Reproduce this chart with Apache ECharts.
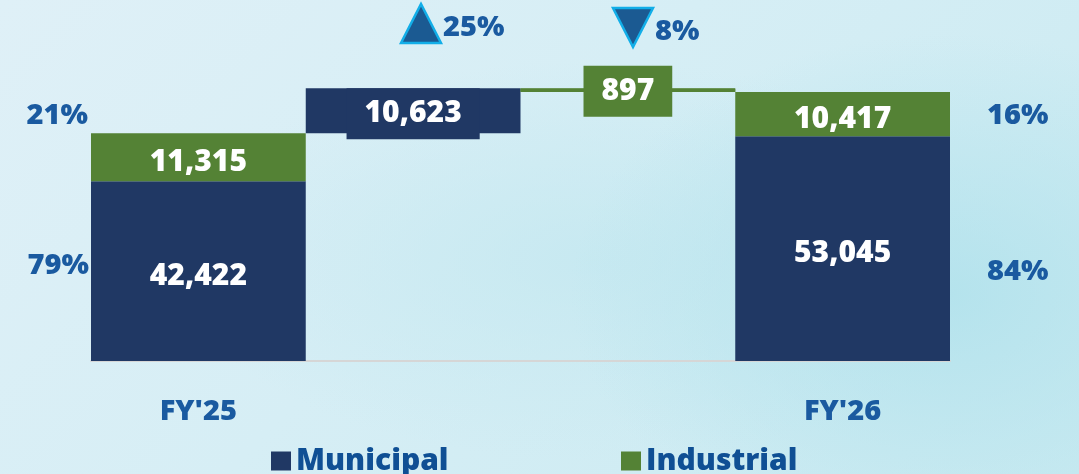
<!DOCTYPE html>
<html>
<head>
<meta charset="utf-8">
<script src="https://cdn.jsdelivr.net/npm/echarts@6/dist/echarts.min.js"></script>
<style>
  html, body { margin: 0; padding: 0; }
  body {
    width: 1079px; height: 474px; overflow: hidden;
    background:
      radial-gradient(ellipse 380px 260px at 88% 62%, rgba(178, 226, 236, 0.9) 0%, rgba(178, 226, 236, 0) 100%),
      radial-gradient(ellipse 420px 200px at 55% 55%, rgba(196, 232, 240, 0.8) 0%, rgba(196, 232, 240, 0) 100%),
      linear-gradient(135deg, #dff0f7 0%, #d6eef5 45%, #c9eaf1 100%);
  }
  #chart { width: 1079px; height: 474px; }
</style>
</head>
<body>
<div id="chart"></div>
<script>
// data
const categories = ["FY'25", '', '', "FY'26"];
const municipal = [42422, 10623, '-', 53045];
const industrial = [11315, '-', 897, 10417];

// invisible base for the floating (bridge) bars
const fy25Total = municipal[0] + industrial[0];
const bridgeTop = fy25Total + municipal[1];
const base = [0, fy25Total, bridgeTop - industrial[2], 0];

const navy = '#203864';
const green = '#548235';
const blueText = '#1a5aa0';
const font = '"Open Sans", "DejaVu Sans", sans-serif';

const fmt = v => Number(v).toLocaleString('en-US');
const pct = (a, b) => Math.round(a / b * 100) + '%';

const valueLabel = {
  show: true,
  position: 'inside',
  offset: [0, 5],
  color: '#fff',
  fontSize: 30,
  fontWeight: 800,
  fontFamily: font,
  formatter: p => fmt(p.value)
};

const chart = echarts.init(document.getElementById('chart'));

const legendText = { fontSize: 30, fontWeight: 800, color: '#0f4f94', fontFamily: font };

const option = {
  animation: false,
  backgroundColor: 'transparent',
  grid: { left: 91, right: 129, top: 22, bottom: 113 },
  legend: [
    {
      data: ['Municipal'], left: 266, top: 441, icon: 'rect',
      itemWidth: 20, itemHeight: 19, selectedMode: false, textStyle: legendText
    },
    {
      data: ['Industrial'], left: 616, top: 441, icon: 'rect',
      itemWidth: 20, itemHeight: 19, selectedMode: false, textStyle: legendText
    }
  ],
  xAxis: {
    type: 'category',
    data: categories,
    axisLine: { lineStyle: { color: '#d6d6d6', width: 2 } },
    axisTick: { show: false },
    axisLabel: {
      interval: 0, margin: 36, color: blueText,
      fontSize: 29, fontWeight: 800, fontFamily: font
    }
  },
  yAxis: { type: 'value', min: 0, max: 80000, show: false, splitLine: { show: false } },
  series: [
    {
      name: 'base', type: 'bar', stack: 'total', barCategoryGap: '0%',
      itemStyle: { color: 'transparent' },
      emphasis: { disabled: true },
      data: base
    },
    {
      name: 'Municipal', type: 'bar', stack: 'total', barCategoryGap: '0%',
      itemStyle: { color: navy },
      emphasis: { disabled: true },
      label: valueLabel,
      data: municipal.map((v, i) => i === 1 ? {
        value: v,
        label: { backgroundColor: navy, padding: [11, 18, 9, 18], lineHeight: 31, offset: [0, 3] }
      } : v)
    },
    {
      name: 'Industrial', type: 'bar', stack: 'total', barCategoryGap: '0%',
      itemStyle: { color: green },
      emphasis: { disabled: true },
      label: valueLabel,
      data: industrial.map((v, i) => i === 2 ? {
        value: v,
        label: { backgroundColor: green, padding: [11, 18, 9, 18], lineHeight: 31, offset: [0, 1] }
      } : v)
    }
  ]
};

chart.setOption(option);

// connector line, share labels and change markers
const cx = i => chart.convertToPixel({ xAxisIndex: 0 }, i);
const cy = v => chart.convertToPixel({ yAxisIndex: 0 }, v);
const band = cx(1) - cx(0);
const fy26Total = municipal[3] + industrial[3];
const lineY = cy((bridgeTop + fy26Total) / 2);

const pctStyle = { fontSize: 29, fontWeight: 800, fill: blueText, fontFamily: font };
const txt = (x, y, text, align) => ({
  type: 'text', x: x, y: y,
  style: Object.assign({ text: text, align: align, verticalAlign: 'middle' }, pctStyle)
});

chart.setOption({
  graphic: [
    {
      type: 'line', z: 0,
      shape: { x1: cx(1) + band / 2, y1: lineY, x2: cx(3) - band / 2, y2: lineY },
      style: { stroke: green, lineWidth: 3 }
    },
    txt(88, 116, pct(industrial[0], fy25Total), 'right'),
    txt(89, 266, pct(municipal[0], fy25Total), 'right'),
    txt(987, 116, pct(industrial[3], fy26Total), 'left'),
    txt(987, 272, pct(municipal[3], fy26Total), 'left'),
    {
      type: 'polygon',
      shape: { points: [[401, 43], [441, 43], [421, 4]] },
      style: { fill: '#1b5a92', stroke: '#12aee8', lineWidth: 2.5 }
    },
    txt(443, 28, pct(municipal[1], municipal[0]), 'left'),
    {
      type: 'polygon',
      shape: { points: [[613, 8], [653, 8], [633, 47]] },
      style: { fill: '#1b5a92', stroke: '#12aee8', lineWidth: 2.5 }
    },
    txt(655, 32, pct(industrial[2], industrial[0]), 'left')
  ]
});
</script>
</body>
</html>
